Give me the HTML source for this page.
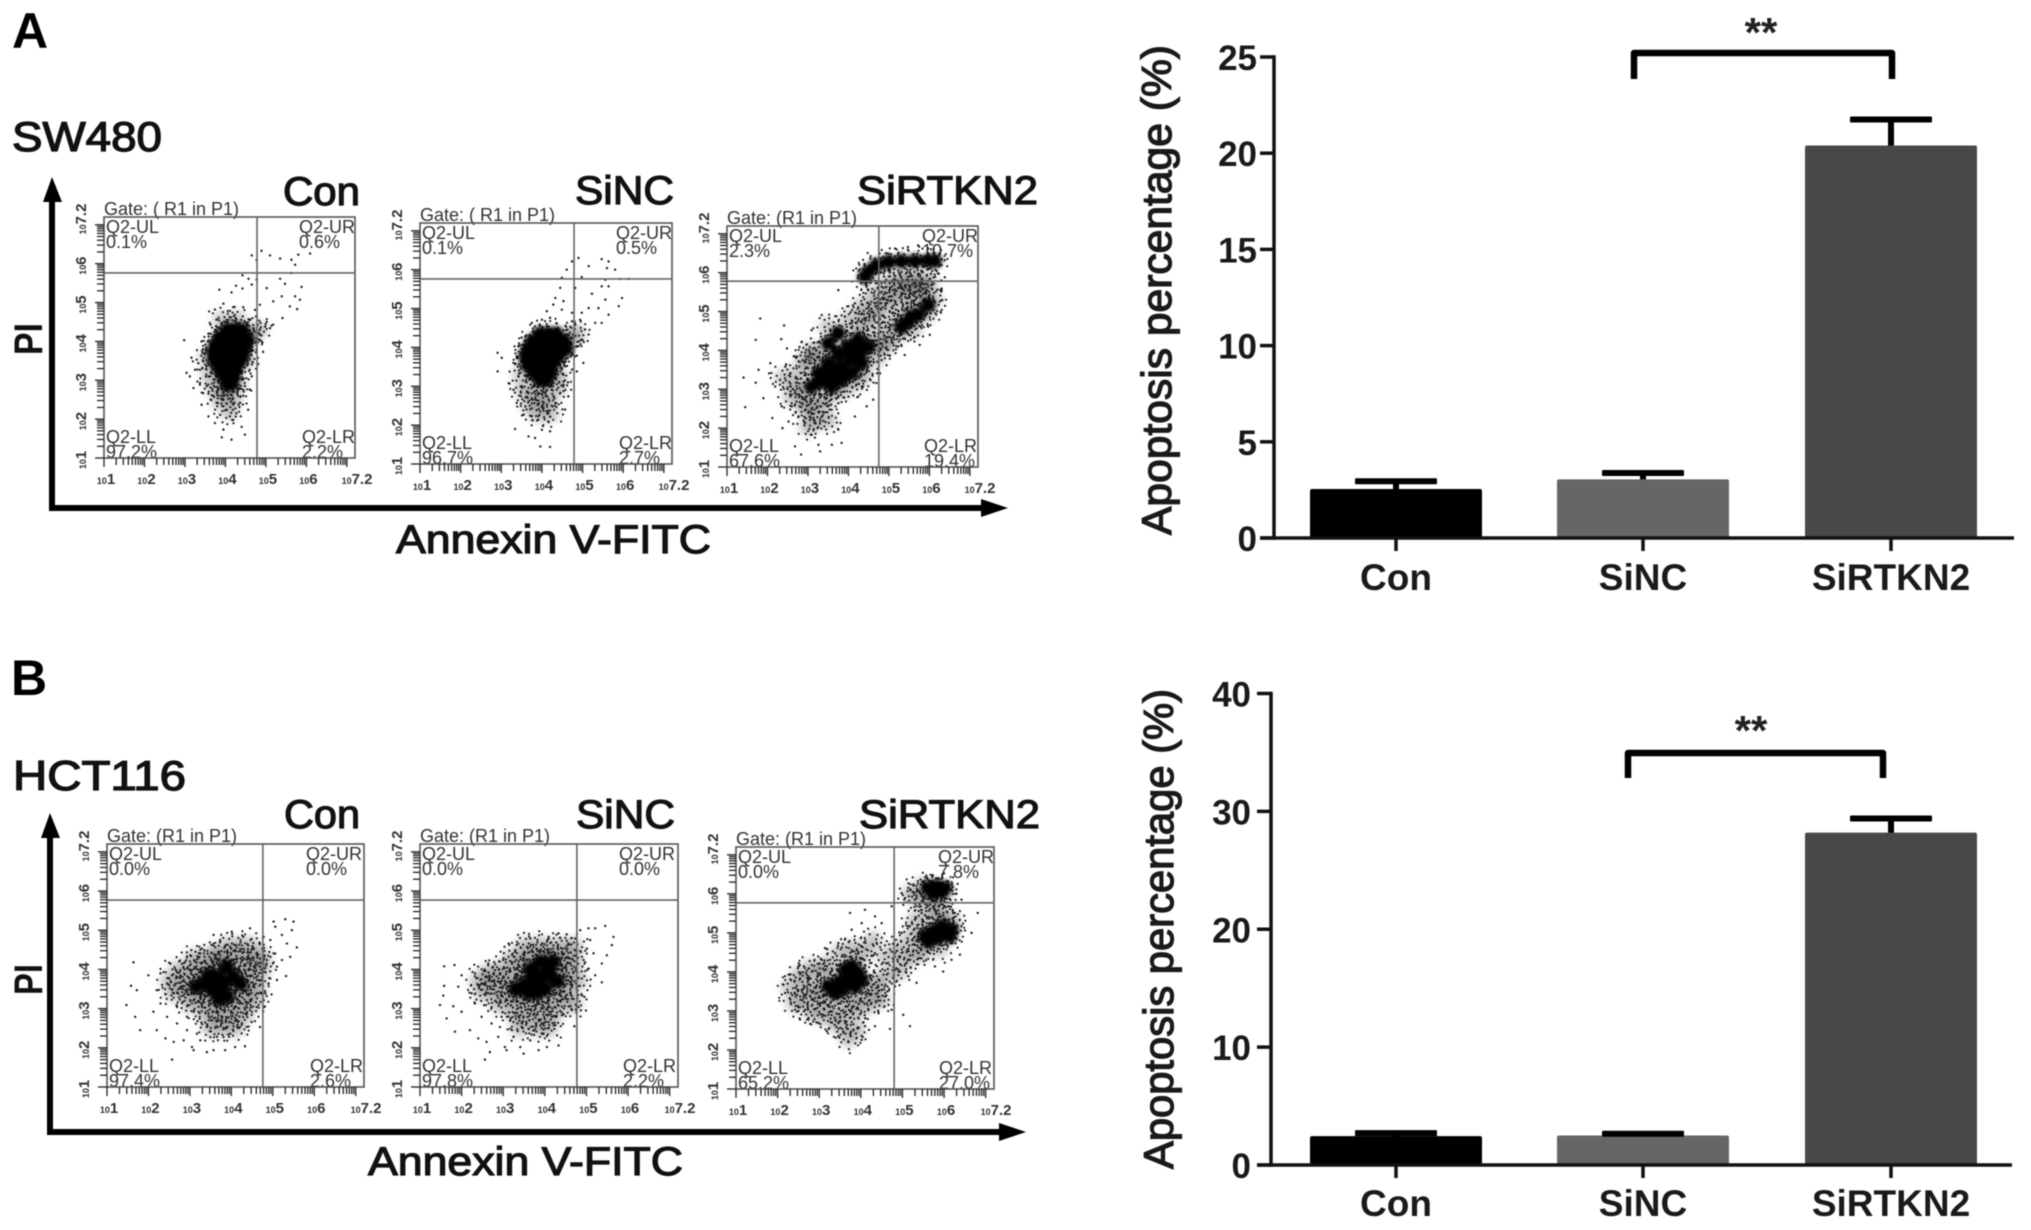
<!DOCTYPE html>
<html lang="en">
<head>
<meta charset="utf-8">
<title>Apoptosis flow cytometry and percentage charts</title>
<style>
html,body{margin:0;padding:0;background:#fff;width:2031px;height:1230px;overflow:hidden}
svg{display:block;filter:blur(.6px)}
text{font-family:"Liberation Sans",sans-serif}
.heading{font-size:42px;fill:#111;stroke:#111;stroke-width:1.3px}
.letter{font-size:50px;font-weight:bold;fill:#000}
.cond{font-size:40px;fill:#111;stroke:#111;stroke-width:1.2px}
.axt{font-size:40px;fill:#111;stroke:#111;stroke-width:1.2px}
.pi{font-size:40px;font-weight:bold;fill:#111}
.q{font-size:18px;fill:#333}
.tick{font-size:35px;font-weight:bold;fill:#1a1a1a}
.cat{font-size:37px;font-weight:bold;fill:#1a1a1a}
.ytitle{font-size:42px;fill:#1a1a1a;stroke:#1a1a1a;stroke-width:1.3px}
.stars{font-size:42px;font-weight:bold;fill:#222}
</style>
</head>
<body>
<svg id="fig" width="2031" height="1230" viewBox="0 0 2031 1230" xmlns="http://www.w3.org/2000/svg">
<defs>
<filter id="soft-haze" x="-30%" y="-30%" width="160%" height="160%"><feGaussianBlur stdDeviation="4"/></filter>
<filter id="soft-core" x="-30%" y="-30%" width="160%" height="160%"><feGaussianBlur stdDeviation="2"/></filter>
</defs>
<rect width="2031" height="1230" fill="#fff"/>

<text class="letter" x="12" y="48">A</text>
<text class="heading" x="12" y="151" textLength="150" lengthAdjust="spacingAndGlyphs">SW480</text>
<text class="cond" x="283" y="205" textLength="77" lengthAdjust="spacingAndGlyphs">Con</text>
<text class="cond" x="575" y="204" textLength="99" lengthAdjust="spacingAndGlyphs">SiNC</text>
<text class="cond" x="857" y="204" textLength="181" lengthAdjust="spacingAndGlyphs">SiRTKN2</text>
<text class="axt" x="396" y="553" textLength="315" lengthAdjust="spacingAndGlyphs">Annexin V-FITC</text>
<text class="pi" transform="translate(42,355) rotate(-90)" textLength="32" lengthAdjust="spacingAndGlyphs">PI</text>
<g fill="#000">
<rect x="49" y="195" width="6" height="316"/><polygon points="52,177 43,202 62,202"/>
<rect x="49" y="505" width="936" height="6"/><polygon points="1008,508 981,499 981,517"/>
</g>

<text class="letter" x="11" y="695">B</text>
<text class="heading" x="13" y="790" textLength="173" lengthAdjust="spacingAndGlyphs">HCT116</text>
<text class="cond" x="284" y="828" textLength="76" lengthAdjust="spacingAndGlyphs">Con</text>
<text class="cond" x="576" y="828" textLength="99" lengthAdjust="spacingAndGlyphs">SiNC</text>
<text class="cond" x="859" y="828" textLength="181" lengthAdjust="spacingAndGlyphs">SiRTKN2</text>
<text class="axt" x="368" y="1175" textLength="315" lengthAdjust="spacingAndGlyphs">Annexin V-FITC</text>
<text class="pi" transform="translate(42,995) rotate(-90)" textLength="31" lengthAdjust="spacingAndGlyphs">PI</text>
<g fill="#000">
<rect x="47" y="832" width="6" height="303"/><polygon points="50,813 41,838 60,838"/>
<rect x="47" y="1129" width="955" height="6"/><polygon points="1026,1132 999,1123 999,1141"/>
</g>

<g id="p-sw-con" transform="translate(104,217)">
<text class="q" x="0" y="-2">Gate: ( R1 in P1)</text>
<text class="q" x="2" y="16">Q2-UL</text><text class="q" x="2" y="31">0.1%</text>
<text class="q" x="195" y="16">Q2-UR</text><text class="q" x="195" y="31">0.6%</text>
<text class="q" x="2" y="226">Q2-LL</text><text class="q" x="2" y="241">97.2%</text>
<text class="q" x="198" y="226">Q2-LR</text><text class="q" x="198" y="241">2.2%</text>
</g>
<g id="p-sw-sinc" transform="translate(420,223)">
<text class="q" x="0" y="-2">Gate: ( R1 in P1)</text>
<text class="q" x="2" y="16">Q2-UL</text><text class="q" x="2" y="31">0.1%</text>
<text class="q" x="196" y="16">Q2-UR</text><text class="q" x="196" y="31">0.5%</text>
<text class="q" x="2" y="226">Q2-LL</text><text class="q" x="2" y="241">96.7%</text>
<text class="q" x="199" y="226">Q2-LR</text><text class="q" x="199" y="241">2.7%</text>
</g>
<g id="p-sw-rtkn" transform="translate(727,226)">
<text class="q" x="0" y="-2">Gate: (R1 in P1)</text>
<text class="q" x="2" y="16">Q2-UL</text><text class="q" x="2" y="31">2.3%</text>
<text class="q" x="195" y="16">Q2-UR</text><text class="q" x="195" y="31">10.7%</text>
<text class="q" x="2" y="226">Q2-LL</text><text class="q" x="2" y="241">67.6%</text>
<text class="q" x="197" y="226">Q2-LR</text><text class="q" x="197" y="241">19.4%</text>
</g>
<g id="p-hct-con" transform="translate(107,844)">
<text class="q" x="0" y="-2">Gate: (R1 in P1)</text>
<text class="q" x="2" y="16">Q2-UL</text><text class="q" x="2" y="31">0.0%</text>
<text class="q" x="199" y="16">Q2-UR</text><text class="q" x="199" y="31">0.0%</text>
<text class="q" x="2" y="228">Q2-LL</text><text class="q" x="2" y="243">97.4%</text>
<text class="q" x="203" y="228">Q2-LR</text><text class="q" x="203" y="243">2.6%</text>
</g>
<g id="p-hct-sinc" transform="translate(420,844)">
<text class="q" x="0" y="-2">Gate: (R1 in P1)</text>
<text class="q" x="2" y="16">Q2-UL</text><text class="q" x="2" y="31">0.0%</text>
<text class="q" x="199" y="16">Q2-UR</text><text class="q" x="199" y="31">0.0%</text>
<text class="q" x="2" y="228">Q2-LL</text><text class="q" x="2" y="243">97.8%</text>
<text class="q" x="203" y="228">Q2-LR</text><text class="q" x="203" y="243">2.2%</text>
</g>
<g id="p-hct-rtkn" transform="translate(736,847)">
<text class="q" x="0" y="-2">Gate: (R1 in P1)</text>
<text class="q" x="2" y="16">Q2-UL</text><text class="q" x="2" y="31">0.0%</text>
<text class="q" x="202" y="16">Q2-UR</text><text class="q" x="202" y="31">7.8%</text>
<text class="q" x="2" y="227">Q2-LL</text><text class="q" x="2" y="242">65.2%</text>
<text class="q" x="203" y="227">Q2-LR</text><text class="q" x="203" y="242">27.0%</text>
</g>

<text class="ytitle" transform="translate(1171,535) rotate(-90)" textLength="490" lengthAdjust="spacingAndGlyphs">Apoptosis percentage (%)</text>
<path d="M1634 79V53H1892V79" fill="none" stroke="#000" stroke-width="6.5" stroke-linejoin="round"/>
<text class="stars" x="1761" y="47" text-anchor="middle">**</text>
<g id="chart-a"></g>

<text class="ytitle" transform="translate(1173,1169) rotate(-90)" textLength="480" lengthAdjust="spacingAndGlyphs">Apoptosis percentage (%)</text>
<path d="M1628 778V753H1883V778" fill="none" stroke="#000" stroke-width="6.5" stroke-linejoin="round"/>
<text class="stars" x="1751" y="745" text-anchor="middle">**</text>
<g id="chart-b"></g>
</svg>

<script>
// ---- bar chart data ----
const barCategories = ['Con', 'SiNC', 'SiRTKN2'];
const barColors = ['#000000', '#666666', '#484848'];
const swMeans = [2.55, 3.05, 20.4];
const swErrors = [0.4, 0.33, 1.35];
const swTicks = [0, 5, 10, 15, 20, 25];
const hctMeans = [2.45, 2.5, 28.2];
const hctErrors = [0.25, 0.15, 1.2];
const hctTicks = [0, 10, 20, 30, 40];

// ---- flow cytometry axis labels ----
const logTickLabels = ['1', '2', '3', '4', '5', '6', '7.2'];

// ---- flow cytometry events (log10 Annexin V-FITC, log10 PI) ----
const swConCore = [[4.05,4.3],[4.25,4.3],[4.4,4.3],[3.85,4.1],[4.05,4.1],[4.25,4.1],[4.45,4.1],[4.55,4.05],[3.75,3.9],[3.95,3.9],[4.15,3.9],[4.35,3.9],[4.5,3.9],[3.7,3.7],[3.9,3.7],[4.1,3.7],[4.3,3.7],[4.45,3.7],[3.75,3.5],[3.95,3.5],[4.15,3.5],[4.35,3.5],[3.85,3.3],[4.05,3.3],[4.25,3.3],[3.95,3.1],[4.1,3.1],[4.2,3.1],[4.05,2.9],[4.15,2.9]];
const swConHaze = [[3.6,3.2],[3.7,2.85],[4.0,2.7],[4.2,2.5],[4.1,2.2],[3.85,2.5],[4.5,3.5],[4.3,2.9],[3.55,3.6],[4.65,4.2],[4.82,4.3],[3.9,4.55],[4.3,4.55]];
const swConDots = [[4.65,6.21],[4.89,6.33],[5.1,6.21],[5.35,6.13],[5.63,6.1],[5.8,6.23],[6.09,6.26],[4.77,6.09],[5.72,5.97],[5.63,5.76],[5.35,5.61],[4.42,5.7],[4.57,5.61],[4.77,5.59],[4.65,5.46],[5.02,5.37],[3.85,5.33],[4.15,5.26],[4.26,5.43],[4.42,5.36],[5.18,5.03],[5.39,5.16],[5.47,5.48],[5.88,5.4],[5.72,5.16],[5.84,5.07],[5.59,4.9],[5.77,4.83],[5.41,4.6],[5.18,4.43],[5.02,4.5],[4.85,4.94],[4.73,4.81],[4.44,4.88],[4.19,4.88],[3.95,4.97],[3.74,4.82],[3.78,4.56],[3.63,4.43],[2.98,4.03],[3.16,3.58],[3.04,3.19],[3.12,3.1],[3.21,2.8],[3.37,3.27],[3.45,2.67],[3.41,2.37],[3.58,2.07],[3.74,1.9],[3.95,1.73],[3.91,1.53],[4.15,1.47],[4.4,1.8],[4.48,1.6],[4.56,2.24],[4.6,2.76],[4.65,3.1],[4.77,3.8],[4.93,3.73],[4.85,4.3],[4.98,4.38],[5.1,4.34],[4.89,4.15],[4.77,4.07],[3.78,2.42],[3.95,2.5],[4.03,2.24],[4.19,1.98],[4.27,2.15],[4.36,2.42],[4.44,2.6],[3.87,2.11],[4.11,2.07],[3.7,2.6],[3.54,2.85],[3.37,2.93],[3.25,3.27],[3.33,3.44],[3.45,3.8],[3.41,4.0],[3.58,4.2],[3.78,4.38],[4.03,4.55],[4.27,4.5],[4.52,4.47],[4.69,4.34],[4.48,2.85],[3.62,3.1],[3.95,2.67],[4.19,2.54],[4.32,2.76]];

const swSincCore = [[3.95,4.35],[4.15,4.35],[4.35,4.35],[3.75,4.15],[3.95,4.15],[4.15,4.15],[4.35,4.15],[4.55,4.15],[3.65,3.95],[3.85,3.95],[4.05,3.95],[4.25,3.95],[4.45,3.95],[4.6,3.95],[3.6,3.75],[3.8,3.75],[4.0,3.75],[4.2,3.75],[4.4,3.75],[3.65,3.55],[3.85,3.55],[4.05,3.55],[4.25,3.55],[3.8,3.35],[4.0,3.35],[4.2,3.35],[3.95,3.15],[4.1,3.15]];
const swSincHaze = [[3.5,3.3],[3.55,2.9],[3.8,2.8],[4.0,2.6],[4.2,2.7],[4.4,3.0],[3.9,2.3],[4.7,4.3],[4.85,4.35],[4.4,3.3],[3.7,2.5],[4.2,2.3]];
const swSincDots = [[4.9,6.3],[4.74,6.21],[4.61,6.0],[5.15,6.09],[5.47,6.27],[5.64,6.21],[5.6,6.04],[5.8,6.0],[4.49,5.79],[4.98,5.81],[5.56,5.74],[5.47,5.57],[5.64,5.57],[5.93,5.76],[6.13,5.76],[4.45,5.53],[4.82,5.53],[4.33,5.27],[5.23,5.38],[5.56,5.23],[5.97,5.27],[5.89,5.06],[4.28,5.1],[4.53,5.19],[4.12,4.93],[4.49,4.97],[4.74,4.89],[4.98,4.89],[5.15,5.01],[5.39,5.01],[5.64,4.84],[5.47,4.63],[5.31,4.63],[5.06,4.46],[5.15,4.33],[4.94,4.71],[4.74,4.67],[3.75,4.63],[4.0,4.71],[4.2,4.76],[2.91,3.86],[3.01,3.73],[2.91,3.38],[3.3,3.6],[3.18,3.08],[3.3,2.91],[3.38,2.57],[3.55,2.27],[3.34,1.9],[3.67,1.71],[3.96,1.45],[4.2,1.44],[4.2,1.84],[4.0,1.88],[3.83,1.67],[4.57,2.4],[4.65,2.74],[4.86,3.38],[5.02,3.6],[3.5,3.0],[3.67,2.83],[3.83,2.66],[4,2.48],[4.16,2.31],[4.33,2.57],[4.45,2.83],[3.75,2.23],[3.91,2.14],[3.59,2.48],[4.08,2.83],[4.24,2.91],[4.53,3.04],[3.42,3.26],[3.38,3.77],[3.42,4.03],[3.59,4.28],[4.74,3.43],[4.82,3.77],[4.9,4.03],[4.98,4.2]];

const swRtknCore = [[3.09,3.07],[3.34,3.2],[3.59,3.37],[3.83,3.58],[4.08,3.8],[4.33,4.01],[4.49,4.1],[3.26,3.41],[3.5,3.67],[3.75,3.93],[4.0,4.1],[4.24,4.27],[3.59,3.07],[3.83,3.24],[4.08,3.41],[4.33,3.67],[3.5,4.18],[3.75,4.44],[4.49,6.02],[4.69,6.19],[4.98,6.28],[5.31,6.3],[5.64,6.3],[5.97,6.3],[6.13,6.3],[4.41,5.89],[5.47,4.74],[5.72,4.91],[5.97,5.17],[5.56,4.87],[5.31,4.61]];
const swRtknHaze = [[4.0,4.8],[4.3,5.1],[4.6,5.4],[4.9,5.7],[5.2,5.9],[5.5,5.9],[5.8,5.8],[4.4,4.6],[4.7,4.9],[5.0,5.2],[5.3,5.4],[5.6,5.5],[5.9,5.5],[4.8,4.4],[5.1,4.7],[5.4,5.0],[5.7,5.2],[5.0,4.2],[4.6,4.1],[3.2,2.7],[3.0,2.5],[3.4,2.6],[2.9,3.0],[2.7,3.1],[2.8,3.5],[3.1,3.7],[3.3,3.9],[3.6,2.9],[3.9,3.0],[4.2,3.2],[4.4,3.4],[4.7,3.8],[3.2,2.2],[2.6,2.8],[2.9,2.6],[3.5,2.2],[2.4,3.3],[3.0,2.05],[4.15,4.4],[4.45,4.85],[4.75,5.15],[5.05,5.5],[5.35,5.65],[5.65,5.7],[4.9,4.15],[5.25,4.45],[5.6,4.55],[5.95,4.95],[6.1,5.3],[6.0,5.75],[3.5,4.6],[3.1,4.0],[2.95,3.8],[3.6,3.4],[4.1,3.55]];
const swRtknDots = [[1.82,4.82],[2.41,4.64],[1.71,4.27],[2.34,4.29],[1.41,3.3],[1.71,3.17],[1.45,2.54],[1.78,3.5],[2.07,3.67],[2.04,3.41],[1.9,2.77],[2.12,2.26],[2.37,2.0],[2.19,3.07],[2.35,2.56],[2.52,2.17],[3.09,1.83],[2.68,1.53],[2.83,1.32],[3.26,1.57],[3.3,1.4],[3.59,1.57],[3.83,1.62],[3.75,1.96],[4.16,2.3],[4.45,2.56],[4.61,2.73],[4.69,3.16],[4.78,3.41],[5.39,3.88],[5.76,4.14],[6.01,4.4],[6.3,5.59],[6.38,5.88],[3.75,5.55],[3.34,4.91],[3.09,4.52],[2.85,4.22],[2.48,4.05],[2.68,3.84],[2.44,3.58],[2.31,3.24],[2.56,3.33],[2.68,2.9],[2.85,2.64],[3.01,2.39],[3.18,2.13],[3.34,2.3],[3.46,2.64],[3.75,2.64],[4,2.81],[4.24,2.81],[4.33,3.07],[2.6,2.56],[2.77,2.3],[2.93,2.13],[3.05,2.21],[3.3,2.56],[4.98,4.01],[5.23,4.1],[4.82,3.75],[5.97,4.61],[5.64,4.35],[6.3,5.29],[6.21,5.98],[5.47,6.66],[5.15,6.62],[5.72,6.7],[5.97,6.62],[4.98,6.49],[6.3,6.19],[6.38,6.32],[3.91,4.87],[4.16,5.21],[4.49,5.55],[4.82,5.64],[5.15,5.81],[5.47,5.89],[5.8,5.81],[5.97,5.64],[4.08,4.7],[4.33,4.95],[4.65,5.21],[4.98,5.29],[5.31,5.47],[5.64,5.47],[5.89,5.47],[4.49,4.52],[4.82,4.7],[5.15,4.95],[5.47,5.12]];

const hctConCore = [[3.81,3.64],[3.57,3.47],[4.05,3.81],[3.33,3.64],[3.89,4.07],[3.89,3.3],[3.65,3.81],[4.21,3.64],[3.15,3.55],[3.45,3.85],[3.7,3.25]];
const hctConHaze = [[3.9,4.6],[4.2,4.6],[4.5,4.6],[3.6,4.4],[3.1,4.3],[3.4,4.3],[3.7,4.3],[4.0,4.3],[4.3,4.3],[4.6,4.3],[4.75,4.3],[2.7,4.0],[3.0,4.0],[3.3,4.0],[3.6,4.0],[3.9,4.0],[4.2,4.0],[4.5,4.0],[4.75,4.0],[2.5,3.7],[2.8,3.7],[3.1,3.7],[3.4,3.7],[3.7,3.7],[4.0,3.7],[4.3,3.7],[4.6,3.7],[2.6,3.4],[2.9,3.4],[3.2,3.4],[3.5,3.4],[3.8,3.4],[4.1,3.4],[4.4,3.4],[4.65,3.4],[3.0,3.1],[3.3,3.1],[3.6,3.1],[3.9,3.1],[4.2,3.1],[4.5,3.1],[3.4,2.8],[3.7,2.8],[4.0,2.8],[4.3,2.8],[3.5,2.5],[3.8,2.5],[4.1,2.5]];
const hctConDots = [[1.64,4.18],[1.58,3.58],[1.72,3.47],[1.47,3.09],[1.68,2.79],[1.8,2.45],[2.0,3.85],[2.12,2.92],[2.2,2.45],[2.41,2.24],[2.61,2.15],[2.57,1.7],[3.05,2.02],[3.09,1.94],[3.41,1.89],[3.57,1.94],[3.85,1.94],[4.09,2.02],[4.33,2.04],[2.85,2.19],[3.25,2.19],[3.65,2.28],[3.97,2.36],[4.21,2.53],[4.49,2.66],[4.69,2.53],[4.78,3.04],[5.02,5.22],[5.3,5.28],[5.5,5.22],[5.06,5.09],[5.46,5.0],[5.22,4.88],[5.34,4.66],[5.58,4.56],[5.42,4.32],[5.22,4.24],[5.1,4.07],[5.32,3.83],[5.1,3.73],[4.9,3.64],[4.82,3.39],[4.78,4.83],[4.45,5.05],[4.01,4.96],[3.57,4.88],[3.73,4.75],[3.29,4.53],[3.01,4.36],[2.53,4.15],[2.29,3.9],[2.45,3.64],[2.2,3.47],[2.29,3.13],[2.45,2.79],[2.69,2.62],[2.93,2.45],[3.17,2.36],[3.41,2.53],[3.89,2.53],[4.13,2.7],[4.37,2.87],[4.61,3.04],[2.69,3.04],[2.93,2.79],[2.61,3.39],[2.77,3.98],[3.25,4.41],[4.61,4.41],[4.69,4.07],[4.86,4.24],[5.02,4.41],[4.94,4.75],[4.69,4.66],[4.29,4.83]];

const hctSincCore = [[3.5,3.6],[3.3,3.5],[3.7,3.7],[3.9,3.8],[4.1,3.9],[4.2,4.2],[3.9,4.2],[3.6,3.4],[3.8,3.4],[4.0,3.5],[4.3,3.7],[3.65,4.0]];
const hctSincHaze = [[3.5,4.6],[3.8,4.6],[4.1,4.6],[4.4,4.6],[4.7,4.6],[3.2,4.3],[3.5,4.3],[3.8,4.3],[4.1,4.3],[4.4,4.3],[4.7,4.3],[2.6,3.9],[2.9,4.0],[3.2,4.0],[3.5,4.0],[3.8,4.0],[4.1,4.0],[4.4,4.0],[4.7,4.0],[2.4,3.7],[2.7,3.7],[3.0,3.7],[3.3,3.7],[3.6,3.7],[3.9,3.7],[4.2,3.7],[4.5,3.7],[4.8,3.7],[2.5,3.4],[2.8,3.4],[3.1,3.4],[3.4,3.4],[3.7,3.4],[4.0,3.4],[4.3,3.4],[4.6,3.4],[2.9,3.1],[3.2,3.1],[3.5,3.1],[3.8,3.1],[4.1,3.1],[4.4,3.1],[4.7,3.1],[3.3,2.8],[3.6,2.8],[3.9,2.8],[4.2,2.8],[3.4,2.5],[3.8,2.5],[4.1,2.5]];
const hctSincDots = [[1.58,4.08],[1.83,4.11],[1.58,3.58],[1.56,3.33],[1.48,3.09],[1.8,3.06],[1.64,2.75],[1.84,2.41],[2.0,3.85],[1.92,3.56],[2,2.92],[2.2,2.45],[2.4,2.24],[2.6,2.15],[2.56,1.7],[2.68,1.89],[3.04,2.02],[3.08,1.94],[3.41,2.02],[3.49,1.85],[3.85,1.94],[4.05,2.02],[4.33,2.06],[2.88,2.28],[3.25,2.28],[3.65,2.19],[3.97,2.36],[4.25,2.58],[4.71,2.55],[4.81,3.04],[4.95,3.3],[5.45,5.11],[5.65,4.83],[5.61,4.62],[5.21,5.05],[5.05,5.05],[4.85,5.0],[5.49,4.36],[5.37,4.15],[5.21,3.85],[5.37,3.67],[5.17,4.41],[5.01,4.53],[5.09,4.75],[4.73,4.79],[3.65,4.79],[3.13,4.66],[2.64,4.15],[2.32,3.9],[2.48,3.64],[2.24,3.39],[2.32,3.13],[2.48,2.79],[2.72,2.62],[2.92,2.53],[3.21,2.45],[3.45,2.62],[3.93,2.62],[4.17,2.79],[4.41,2.83],[4.65,2.96],[2.72,3.04],[2.96,2.79],[2.64,3.39],[2.8,3.98],[3.29,4.49],[4.09,4.83],[4.33,4.92],[4.93,4.24],[5.05,4.02]];

const hctRtknCore = [[3.22,3.63],[3.46,3.72],[3.7,3.8],[3.94,3.97],[3.78,4.14],[3.54,3.54],[4.02,3.8],[3.38,3.46],[3.86,3.63],[3.62,4.06],[5.62,6.15],[5.82,6.19],[6.02,6.15],[5.74,6.02],[5.94,6.06],[5.62,4.78],[5.82,4.87],[6.02,5.0],[6.18,5.08],[5.74,5.04],[5.94,5.17],[6.14,4.91],[5.54,4.91]];
const hctRtknHaze = [[2.7,3.7],[2.9,3.5],[2.6,3.3],[3,4],[3.2,3.2],[3.5,3.0],[3.8,2.9],[4.1,3.1],[4.3,3.3],[4.4,3.7],[4.6,3.9],[4.9,4.0],[5.1,4.3],[5.3,4.5],[3.2,4.2],[3.5,4.5],[3.8,4.6],[4.1,4.5],[4.3,4.8],[4.6,4.4],[4.9,4.6],[5.2,4.9],[5.3,5.3],[5.6,5.5],[5.9,5.5],[5.4,5.9],[5.7,5.8],[5.2,6.0],[3.0,2.9],[3.5,2.6],[3.9,2.5],[3.7,2.3],[4.2,3.6],[3.0,3.4],[2.3,3.6],[2.5,3.9],[2.8,4.1],[2.4,3.2],[2.8,3.0],[3.3,2.8],[3.3,3.9],[3.9,3.3],[4.5,3.3],[5.6,5.0],[5.9,4.6],[6.2,5.3],[5.5,4.5],[5.7,6.1],[6.0,6.0],[5.5,6.2],[5.95,5.4],[3.7,3.3],[3.9,4.2]];
const hctRtknDots = [[2.14,3.67],[2.18,3.46],[2.3,3.93],[2.5,4.14],[2.42,3.03],[2.54,2.78],[2.74,3.8],[2.98,2.69],[3.18,2.48],[3.46,2.69],[3.7,2.2],[3.46,2.35],[4.02,2.26],[3.82,2.52],[4.1,2.61],[4.34,2.61],[4.7,2.54],[4.74,3.03],[5.02,2.9],[5.18,2.61],[3.74,5.51],[4.1,5.59],[4.34,5.42],[3.14,4.61],[3.46,4.74],[3.78,5.08],[4.02,5.25],[4.5,5.25],[4.74,5.68],[4.98,6.02],[5.14,6.15],[5.26,6.24],[5.06,5.89],[5.3,5.85],[6.42,5.85],[6.81,5.51],[6.66,5.0],[6.42,5.17],[6.38,4.44],[6.18,4.31],[5.98,4.01],[5.78,4.14],[5.34,3.72],[5.14,3.89],[4.9,4.06],[4.66,4.23],[4.82,4.48],[5.14,4.31],[4.98,5.0],[5.14,5.17],[5.3,5.34],[5.46,5.51],[5.78,5.6],[6.1,5.68],[6.26,5.51],[4.82,3.63],[4.58,3.37],[4.18,3.03],[2.82,3.29],[2.58,3.54],[2.66,3.03],[2.74,2.78],[3.06,4.31],[3.38,4.48],[3.62,4.83],[4.02,4.65],[4.34,4.48]];

const SVG_NS = 'http://www.w3.org/2000/svg';
function mk(parent, tag, attrs) {
  const el = document.createElementNS(SVG_NS, tag);
  for (const k in attrs) el.setAttribute(k, attrs[k]);
  parent.appendChild(el);
  return el;
}

// Each density patch is textured with the same fixed speckle so clouds read as events.
const speckle = [[-12,-3],[-9,6],[-6,-11],[-3,2],[-1,12],[2,-7],[4,7],[7,-1],[9,10],[11,-8],[13,3],[-7,-4],[0,-13],[5,-12],[-12,9],[-4,-8],[8,4],[3,1]];
function speckleFor(cx, cy, i) {
  const a = i * 2.399, ca = Math.cos(a), sa = Math.sin(a);
  return speckle.map(o => 'M' + (cx + o[0] * ca - o[1] * sa).toFixed(1) + ' ' + (cy + o[0] * sa + o[1] * ca).toFixed(1) + 'h0').join('');
}

// ---- scatter panels ----
function drawPanel(id, w, h, gateX, gateY, core, haze, dots) {
  const g = document.getElementById(id);
  const X = v => (v - 1) / 6.2 * w;
  const Y = v => h - (v - 1) / 6.2 * h;

  const hazeG = mk(g, 'g', {fill: '#000', 'fill-opacity': 0.22, filter: 'url(#soft-haze)'});
  
  
  haze.forEach(p => {
    const c = mk(hazeG, 'circle', {cx: X(p[0]), cy: Y(p[1]), r: 9});
    
    
  });
  const speckG = mk(g, 'g', {fill: 'none', stroke: '#1c1c1c', 'stroke-width': 2.2, 'stroke-linecap': 'round'});
  
  
  haze.concat(core).forEach((p, i) => {
    const s = mk(speckG, 'path', {d: speckleFor(X(p[0]), Y(p[1]), i)});
    
    
  });
  const coreG = mk(g, 'g', {fill: '#000', filter: 'url(#soft-core)'});
  
  
  core.forEach(p => {
    const c = mk(coreG, 'circle', {cx: X(p[0]), cy: Y(p[1]), r: 7.5});
    
    
  });
  const dotG = mk(g, 'g', {fill: '#1c1c1c'});
  
  
  dots.forEach(p => {
    const c = mk(dotG, 'circle', {cx: X(p[0]), cy: Y(p[1]), r: 1.2});
    
    
  });

  const box = mk(g, 'rect', {x: 0, y: 0, width: w, height: h, fill: 'none', stroke: '#555', 'stroke-width': 1.6});
  
  
  const gv = mk(g, 'line', {x1: X(gateX), x2: X(gateX), y1: 0, y2: h, stroke: '#666', 'stroke-width': 1.6});
  
  
  const gh = mk(g, 'line', {x1: 0, x2: w, y1: Y(gateY), y2: Y(gateY), stroke: '#666', 'stroke-width': 1.6});
  
  

  const ticks = mk(g, 'g', {stroke: '#222', 'stroke-width': 1.3});
  
  
  for (let d = 1; d <= 7; d++) {
    for (let m = 1; m <= 9; m++) {
      const v = d + Math.log10(m);
      if (v > 7.2) continue;
      const len = m === 1 ? 9 : 7;
      mk(ticks, 'line', {x1: X(v), x2: X(v), y1: h, y2: h + len});
      mk(ticks, 'line', {x1: -len, x2: 0, y1: Y(v), y2: Y(v)});
    }
  }
  logTickLabels.forEach(lab => {
    const v = parseFloat(lab);
    const tx = mk(g, 'text', {x: X(v) + 2, y: h + 26, 'text-anchor': 'middle', 'font-size': 15, 'font-weight': 'bold', fill: '#333'});
    
    
    const a = mk(tx, 'tspan', {'font-size': 9});
    a.textContent = '10';
    const b = mk(tx, 'tspan', {});
    b.textContent = lab;
    const ty = mk(g, 'text', {transform: 'translate(-18,' + (Y(v) + 2) + ') rotate(-90)', 'text-anchor': 'middle', 'font-size': 15, 'font-weight': 'bold', fill: '#333'});
    
    
    const c = mk(ty, 'tspan', {'font-size': 9});
    c.textContent = '10';
    const e = mk(ty, 'tspan', {});
    e.textContent = lab;
  });
}

drawPanel('p-sw-con', 251, 241, 4.78, 5.76, swConCore, swConHaze, swConDots);
drawPanel('p-sw-sinc', 252, 241, 4.79, 5.76, swSincCore, swSincHaze, swSincDots);
drawPanel('p-sw-rtkn', 251, 241, 4.75, 5.78, swRtknCore, swRtknHaze, swRtknDots);
drawPanel('p-hct-con', 257, 243, 4.76, 5.77, hctConCore, hctConHaze, hctConDots);
drawPanel('p-hct-sinc', 258, 243, 4.77, 5.77, hctSincCore, hctSincHaze, hctSincDots);
drawPanel('p-hct-rtkn', 258, 242, 4.80, 5.77, hctRtknCore, hctRtknHaze, hctRtknDots);

// ---- bar charts ----
function drawBars(id, means, errors, ticks, yMax, y0, yTop, axisX, axisEnd, tickStart, labelEnd, centers, labelY) {
  const g = document.getElementById(id);
  const Y = v => y0 - v / yMax * (y0 - yTop);
  const barW = 172, capW = 82;
  means.forEach((m, i) => {
    const cx = centers[i];
    const top = Y(m + errors[i]);
    const stem = mk(g, 'rect', {x: cx - 3, y: top, width: 6, height: Y(m) - top + 4, fill: '#000'});
    
    
    const bar = mk(g, 'rect', {x: cx - barW / 2, y: Y(m), width: barW, height: y0 - Y(m), fill: barColors[i], rx: 2});
    
    
    const cap = mk(g, 'rect', {x: cx - capW / 2, y: top - 3, width: capW, height: 6, fill: '#000', rx: 1});
    
    
    const tick = mk(g, 'rect', {x: cx - 1.75, y: y0, width: 3.5, height: 13, fill: '#111'});
    
    
    const lab = mk(g, 'text', {x: cx, y: labelY, 'text-anchor': 'middle', class: 'cat'});
    
    
    lab.textContent = barCategories[i];
  });
  const yAxis = mk(g, 'rect', {x: axisX - 1.75, y: yTop - 1.75, width: 3.5, height: y0 - yTop + 3.5, fill: '#111'});
  
  
  const xAxis = mk(g, 'rect', {x: tickStart, y: y0 - 1.75, width: axisEnd - tickStart, height: 3.5, fill: '#111'});
  
  
  ticks.forEach(t => {
    const tk = mk(g, 'rect', {x: tickStart, y: Y(t) - 1.75, width: axisX - tickStart, height: 3.5, fill: '#111'});
    
    
    const lab = mk(g, 'text', {x: labelEnd, y: Y(t) + 13, 'text-anchor': 'end', class: 'tick'});
    
    
    lab.textContent = t;
  });
}

drawBars('chart-a', swMeans, swErrors, swTicks, 25, 538, 57, 1274, 2014, 1260, 1257, [1396, 1643, 1891], 590);
drawBars('chart-b', hctMeans, hctErrors, hctTicks, 40, 1165, 693.5, 1271, 2012, 1257, 1251, [1396, 1643, 1891], 1216);
</script>
</body>
</html>
